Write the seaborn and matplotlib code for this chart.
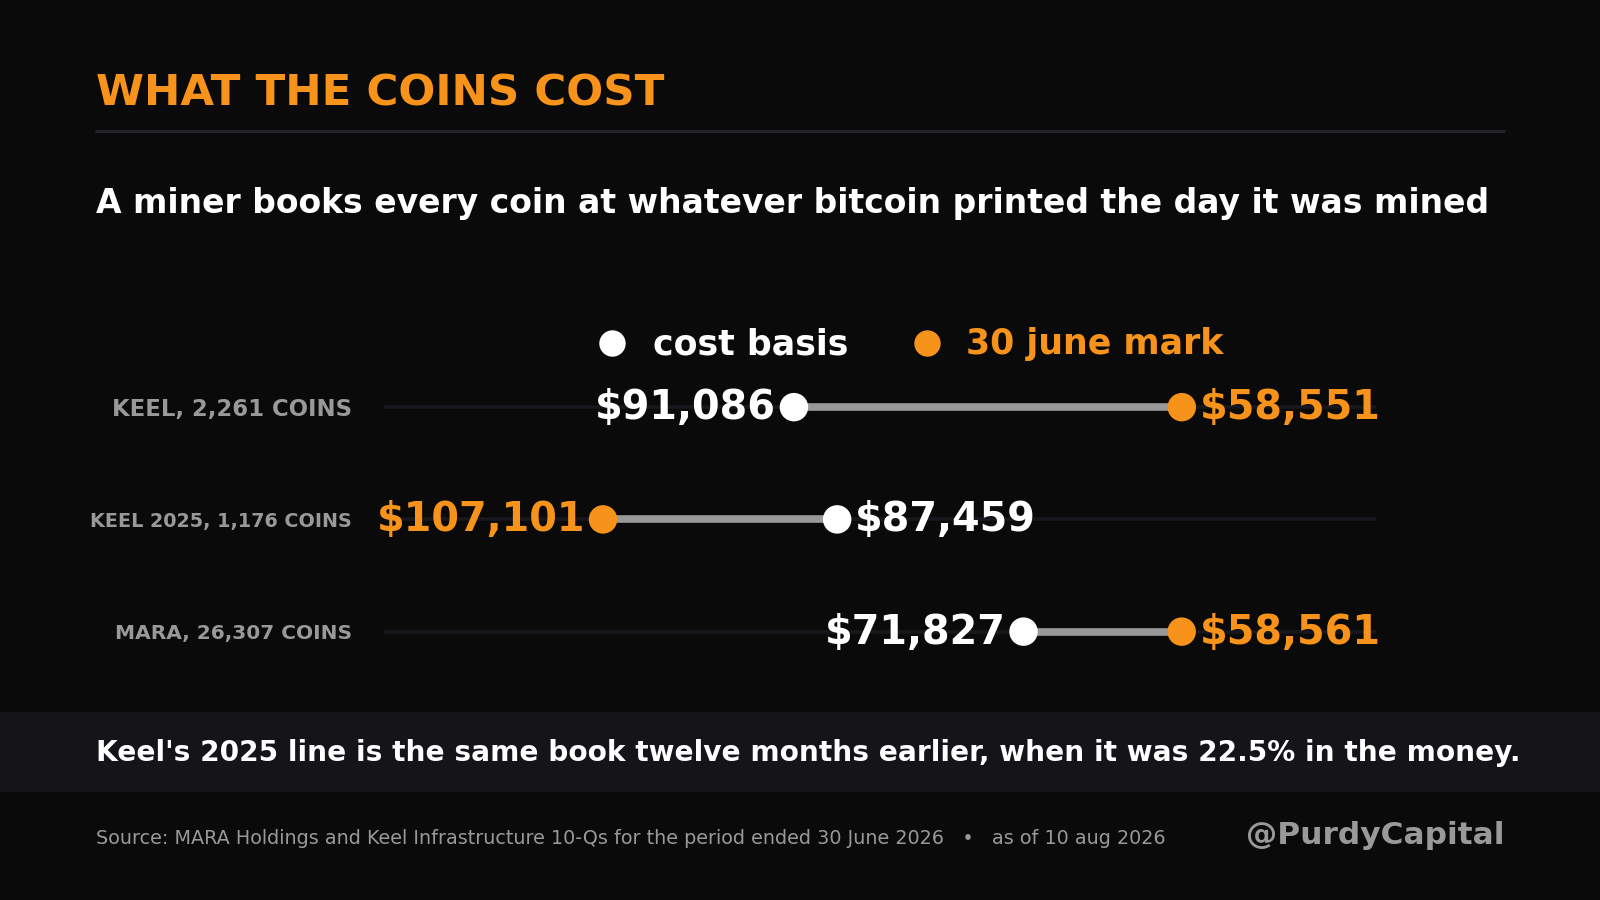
""" Dumbbell chart: miner cost basis vs 30 june mark """

import matplotlib.pyplot as plt
import pandas as pd
import seaborn as sns
from matplotlib.lines import Line2D
from matplotlib.patches import Rectangle

# data
rows = ["KEEL, 2,261 COINS", "KEEL 2025, 1,176 COINS", "MARA, 26,307 COINS"]
cost_basis = [91086, 87459, 71827]
june_mark = [58551, 107101, 58561]

# colours
BG = "#0a0a0a"
BAND = "#141419"
ORANGE = "#f7931a"
WHITE = "#ffffff"
GREY = "#999999"
TRACK = "#17171d"
RULE = "#222226"

W, H = 1568, 882  # reference pixel grid, used for layout fractions


def fx(x):
    return x / W


def fy(y):
    return 1 - y / H


sns.set_theme(style="dark")
plt.rcParams["font.family"] = ["DejaVu Sans"]

fig = plt.figure(figsize=(16, 9), dpi=100, facecolor=BG)

# note band background
fig.patches.append(Rectangle((0, fy(776)), 1, fy(698) - fy(776), transform=fig.transFigure,
                             facecolor=BAND, edgecolor="none", zorder=0))

# header
fig.text(fx(94), fy(103), "WHAT THE COINS COST", color=ORANGE, fontsize=31.3,
         fontweight="bold", va="baseline", ha="left")
fig.add_artist(Line2D([fx(94), fx(1474)], [fy(128), fy(128)], transform=fig.transFigure,
                      color=RULE, lw=2.2))
fig.text(fx(94), fy(209), "A miner books every coin at whatever bitcoin printed the day it was mined",
         color=WHITE, fontsize=23.75, fontweight="bold", va="baseline", ha="left")

# legend
for dot_x, text_x, label, colour in [(600, 640, "cost basis", WHITE),
                                     (908, 947, "30 june mark", ORANGE)]:
    fig.add_artist(Line2D([fx(dot_x)], [fy(336)], transform=fig.transFigure, marker="o",
                          markersize=19, color=colour, markeredgewidth=0, linestyle="none"))
    fig.text(fx(text_x), fy(347), label, color=colour, fontsize=25, fontweight="bold",
             va="baseline", ha="left")

# dumbbell axes
ax = fig.add_axes([fx(376), fy(674), fx(1348) - fx(376), fy(344) - fy(674)])
ax.set_facecolor("none")

df = pd.DataFrame({
    "row": list(range(len(rows))) * 2,
    "kind": ["cost basis"] * len(rows) + ["30 june mark"] * len(rows),
    "value": cost_basis + june_mark,
})

for i in range(len(rows)):
    ax.axhline(i, color=TRACK, lw=2.6, zorder=1)
ax.hlines(range(len(rows)), cost_basis, june_mark, color=GREY, lw=5.5, zorder=2)

sns.scatterplot(data=df, x="value", y="row", hue="kind",
                palette={"cost basis": WHITE, "30 june mark": ORANGE},
                s=420, linewidth=0, legend=False, zorder=3, ax=ax)

for i, (cost, mark) in enumerate(zip(cost_basis, june_mark)):
    # cost label sits on the far side from the mark (axis is reversed)
    cost_side = -1 if cost > mark else 1
    for value, colour, side in [(cost, WHITE, cost_side), (mark, ORANGE, -cost_side)]:
        ax.annotate(f"${value:,}", (value, i), xytext=(13 * side, 2.5), textcoords="offset points",
                    ha="left" if side > 0 else "right", va="center_baseline",
                    color=colour, fontsize=28.6, fontweight="bold", zorder=4)

ax.set_xlim(125500, 42300)
ax.set_ylim(len(rows) - 0.5, -0.5)
ax.set_xticks([])
ax.set_yticks([])
ax.set_xlabel("")
ax.set_ylabel("")
for spine in ax.spines.values():
    spine.set_visible(False)

# row labels, shrunk to fit the label column
label_sizes = [16.35, 13.8, 14.5]
for i, (label, size) in enumerate(zip(rows, label_sizes)):
    fig.text(fx(345), fy(399 + 110 * i), label, color=GREY, fontsize=size,
             fontweight="bold", ha="right", va="center_baseline")

# band note
fig.text(fx(94), fy(746), "Keel's 2025 line is the same book twelve months earlier, "
         "when it was 22.5% in the money.", color=WHITE, fontsize=20.2, fontweight="bold",
         va="baseline", ha="left")

# footer
fig.text(fx(94), fy(827), "Source: MARA Holdings and Keel Infrastructure 10-Qs for the period "
         "ended 30 June 2026   \u2022   as of 10 aug 2026", color=GREY, fontsize=13.8,
         va="baseline", ha="left")
fig.text(fx(1474), fy(827), "@PurdyCapital", color=GREY, fontsize=22.5, fontweight="bold",
         va="baseline", ha="right")

fig.savefig("out.png", dpi=100, facecolor=BG)
